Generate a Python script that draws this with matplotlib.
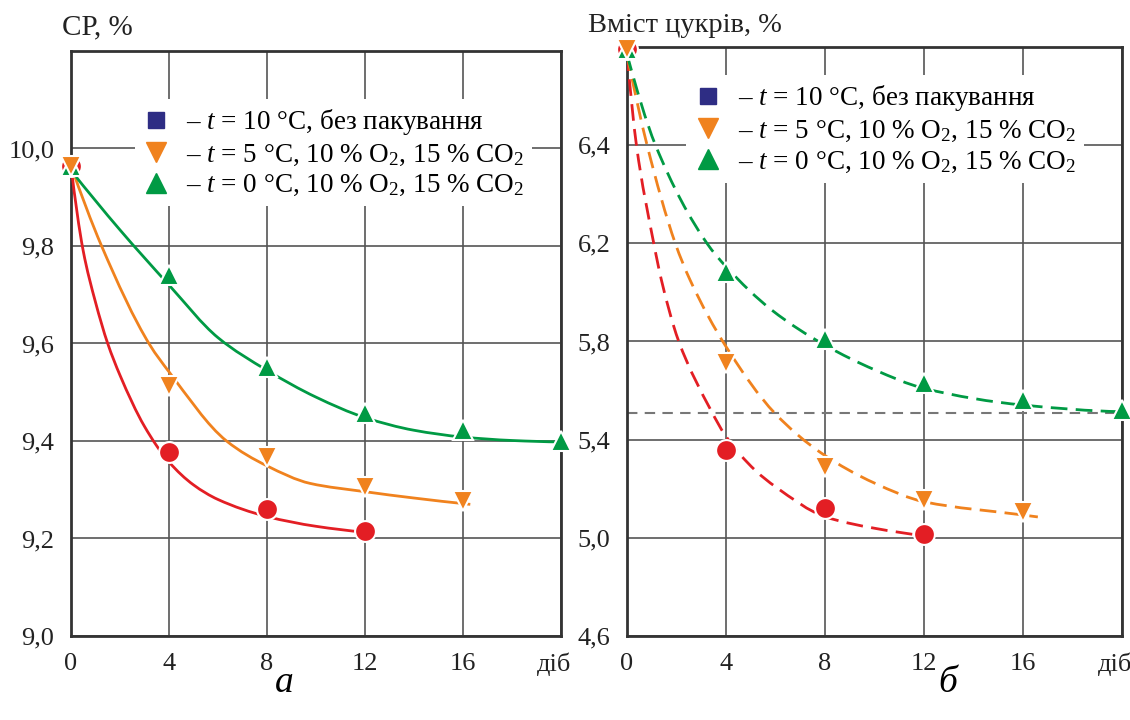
import matplotlib
matplotlib.use('Agg')
import matplotlib.pyplot as plt
from matplotlib.path import Path
from matplotlib.patches import PathPatch
from matplotlib.lines import Line2D
from matplotlib.transforms import ScaledTranslation
import numpy as np

plt.rcParams['font.family'] = ['Liberation Serif', 'DejaVu Serif']
plt.rcParams['mathtext.fontset'] = 'custom'
plt.rcParams['mathtext.rm'] = 'Liberation Serif'
plt.rcParams['mathtext.it'] = 'Liberation Serif:italic'
plt.rcParams['mathtext.default'] = 'regular'

# ---- data: (a) dry matter, %
days = [0, 4, 8, 12, 16, 20]
sr_red = [9.965, 9.377, 9.261, 9.216]
sr_orange = [9.965, 9.513, 9.367, 9.306, 9.276]
sr_green = [9.965, 9.74, 9.552, 9.457, 9.423, 9.40]

# trend curves
sr_red_fit_x = [0, 0.5, 1, 1.5, 2, 3, 4, 5, 6, 8, 10, 12]
sr_red_fit_y = [9.965, 9.79, 9.685, 9.60, 9.535, 9.43, 9.357, 9.31, 9.28, 9.245, 9.225, 9.213]
sr_orange_fit_x = [0, 1.25, 3.22, 4, 6.35, 8, 9.76, 12, 14, 16.3]
sr_orange_fit_y = [9.965, 9.80, 9.597, 9.542, 9.40, 9.349, 9.313, 9.296, 9.283, 9.27]
sr_green_fit_x = [0, 2, 4, 6, 8, 10, 12, 14, 16, 18, 20]
sr_green_fit_y = [9.955, 9.833, 9.72, 9.612, 9.545, 9.49, 9.448, 9.422, 9.408, 9.401, 9.398]

# ---- data: (b) sugars, %
su_red = [6.99, 5.358, 5.123, 5.015]
su_orange = [6.99, 5.711, 5.29, 5.154, 5.106]
su_green = [6.99, 6.084, 5.81, 5.63, 5.562, 5.521]

su_red_fit_x = [0, 0.38, 1.08, 1.39, 2.07, 3.42, 3.96, 5.17, 6, 8, 10, 12]
su_red_fit_y = [6.97, 6.60, 6.20, 6.05, 5.806, 5.514, 5.419, 5.276, 5.208, 5.086, 5.039, 5.009]
su_orange_fit_x = [0, 0.81, 1.95, 2.55, 4, 5.98, 7.87, 10, 12, 16, 16.6]
su_orange_fit_y = [6.97, 6.60, 6.20, 6.05, 5.779, 5.507, 5.344, 5.223, 5.147, 5.093, 5.085]
su_green_fit_x = [0, 1.15, 3.23, 4, 5.85, 8, 10, 12, 16, 20]
su_green_fit_y = [6.97, 6.60, 6.20, 6.105, 5.928, 5.785, 5.685, 5.609, 5.541, 5.514]
su_limit = 5.51

sr_yticks = [9.0, 9.2, 9.4, 9.6, 9.8, 10.0]
sr_ylabels = ['9,0', '9,2', '9,4', '9,6', '9,8', '10,0']
su_yticks = [4.6, 5.0, 5.4, 5.8, 6.2, 6.6]
su_ylabels = ['4,6', '5,0', '5,4', '5,8', '6,2', '6,4']
xticks = [0, 4, 8, 12, 16, 20]
xlabels = ['0', '4', '8', '12', '16', 'діб']

legend_labels = [r'– $\mathit{t}$ = 10 °C, без пакування',
                 r'– $\mathit{t}$ = 5 °C, 10 % O$_2$, 15 % CO$_2$',
                 r'– $\mathit{t}$ = 0 °C, 10 % O$_2$, 15 % CO$_2$']

RED = '#e31e24'
ORANGE = '#f0821e'
GREEN = '#009a44'
NAVY = '#2e2d84'


def smooth_path(xs, ys):
    # shape-preserving cubic (pchip-style tangents) drawn as Bezier segments
    x = np.asarray(xs, float)
    y = np.asarray(ys, float)
    h = np.diff(x)
    d = np.diff(y) / h
    n = len(x)
    m = np.zeros(n)
    for k in range(1, n - 1):
        if d[k - 1] * d[k] > 0:
            w1 = 2 * h[k] + h[k - 1]
            w2 = h[k] + 2 * h[k - 1]
            m[k] = (w1 + w2) / (w1 / d[k - 1] + w2 / d[k])
    m[0] = ((2 * h[0] + h[1]) * d[0] - h[0] * d[1]) / (h[0] + h[1])
    if m[0] * d[0] <= 0:
        m[0] = 0
    m[-1] = ((2 * h[-1] + h[-2]) * d[-1] - h[-1] * d[-2]) / (h[-1] + h[-2])
    if m[-1] * d[-1] <= 0:
        m[-1] = 0
    verts = [(x[0], y[0])]
    codes = [Path.MOVETO]
    for k in range(n - 1):
        verts += [(x[k] + h[k] / 3, y[k] + m[k] * h[k] / 3),
                  (x[k + 1] - h[k] / 3, y[k + 1] - m[k + 1] * h[k] / 3),
                  (x[k + 1], y[k + 1])]
        codes += [Path.CURVE4] * 3
    return Path(verts, codes)


def setup(ax, ylim, yticks, ylabels):
    ax.set_xlim(0, 20)
    ax.set_ylim(*ylim)
    ax.set_xticks(xticks)
    ax.set_xticklabels(xlabels)
    ax.set_yticks(yticks)
    ax.set_yticklabels(ylabels)
    ax.tick_params(length=0, labelsize=19, pad=12, colors='#222222')
    last = ax.get_xticklabels()[-1]
    last.set_ha('right')
    last.set_transform(last.get_transform() + ScaledTranslation(10 / 100, 0, ax.figure.dpi_scale_trans))
    ax.grid(True, color='#555555', lw=1.2)
    ax.set_axisbelow(True)
    for s in ax.spines.values():
        s.set_linewidth(2)
        s.set_color('#333333')


def draw(ax, fits, marks, ls):
    for (fx, fy, c) in fits:
        ax.add_patch(PathPatch(smooth_path(fx, fy), fill=False, ec=c, lw=2,
                               ls=ls, capstyle='butt', zorder=3))
    for (y, c, m, ms) in marks:
        ax.plot(days[:len(y)], y, ls='none', marker=m, color=c, ms=ms,
                mec='white', mew=1.5, zorder=4, clip_on=False)


def add_legend(ax, anchor):
    handles = [Line2D([], [], ls='none', marker='s', color=NAVY, ms=12),
               Line2D([], [], ls='none', marker='v', color=ORANGE, ms=14),
               Line2D([], [], ls='none', marker='^', color=GREEN, ms=14)]
    leg = ax.legend(handles, legend_labels, loc='upper left', bbox_to_anchor=anchor,
                    fontsize=19.5, frameon=True, framealpha=1, facecolor='white',
                    edgecolor='none', fancybox=False, handlelength=1.0,
                    handletextpad=0.6, labelspacing=0.2, borderpad=0.3,
                    borderaxespad=0)
    leg.set_zorder(5)


fig = plt.figure(figsize=(11.3, 7.2), dpi=100)
ax1 = fig.add_axes([0.0628, 0.1167, 0.4336, 0.8125])
ax2 = fig.add_axes([0.5549, 0.1167, 0.438, 0.818])

setup(ax1, (9.0, 10.2), sr_yticks, sr_ylabels)
draw(ax1,
     [(sr_red_fit_x, sr_red_fit_y, RED),
      (sr_orange_fit_x, sr_orange_fit_y, ORANGE),
      (sr_green_fit_x, sr_green_fit_y, GREEN)],
     [(sr_red, RED, 'o', 15), (sr_green, GREEN, '^', 15), (sr_orange, ORANGE, 'v', 15)],
     '-')
add_legend(ax1, (0.13, 0.918))

setup(ax2, (4.6, 7.0), su_yticks, su_ylabels)
ax2.axhline(su_limit, color='#777777', lw=1.5, ls=(0, (5, 3.5)), zorder=2)
draw(ax2,
     [(su_red_fit_x, su_red_fit_y, RED),
      (su_orange_fit_x, su_orange_fit_y, ORANGE),
      (su_green_fit_x, su_green_fit_y, GREEN)],
     [(su_red, RED, 'o', 15), (su_green, GREEN, '^', 15), (su_orange, ORANGE, 'v', 15)],
     (0, (6, 3)))
add_legend(ax2, (0.12, 0.952))

fig.text(62 / 1130, 1 - 27 / 720, 'СР, %', fontsize=21, va='center', ha='left', color='#222222')
fig.text(588 / 1130, 1 - 26 / 720, 'Вміст цукрів, %', fontsize=20.5, va='center', ha='left', color='#222222')
fig.text(284 / 1130, 1 - 683 / 720, 'а', fontsize=27, style='italic', ha='center', va='center')
fig.text(948 / 1130, 1 - 683 / 720, 'б', fontsize=27, style='italic', ha='center', va='center')

fig.savefig('out.png', dpi=100)
